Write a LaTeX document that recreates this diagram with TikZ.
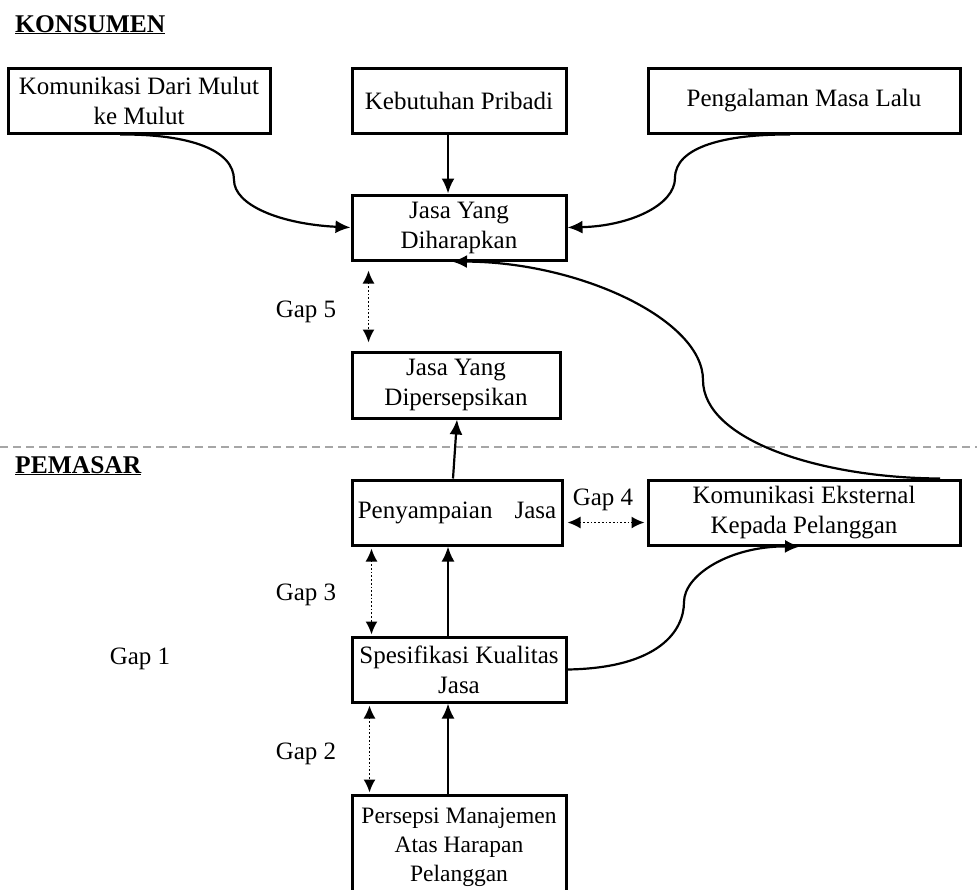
\documentclass[tikz,border=0pt]{standalone}
\usepackage{fontspec}
\setmainfont{Liberation Serif}
\usetikzlibrary{arrows.meta,calc}
\begin{document}
\begin{tikzpicture}[x=1pt,y=-1pt,
  box/.style={draw, line width=3pt, rectangle, inner sep=0pt, align=center,
    font=\fontsize{25}{30}\selectfont, minimum height=65pt},
  lbl/.style={inner sep=0pt, font=\fontsize{25}{30}\selectfont},
  head/.style={inner sep=0pt, font=\fontsize{25.5}{30}\selectfont\bfseries},
  conn/.style={line width=2.2pt, -{Latex[length=15pt,width=13pt]}},
  gaparr/.style={line width=1.7pt, dotted, {Latex[length=13pt,width=12pt]}-{Latex[length=13pt,width=12pt]}},
  sep/.style={line width=2.6pt, gray!70, dash pattern=on 8pt off 5pt}
]
\useasboundingbox (0,0) rectangle (977,889);

% headings
\node[head, anchor=base west] (konsumen) at (15,32) {\underline{KONSUMEN}};
\node[head, anchor=base west] (pemasar) at (15,473) {\underline{PEMASAR}};

% separator
\coordinate (sepL) at (0,447);
\coordinate (sepR) at (977,447);
\draw[sep] (sepL) -- (sepR);

% boxes
\node[box, minimum width=262pt] (b1) at (139,100.5) {Komunikasi Dari Mulut\\ke Mulut};
\node[box, minimum width=214pt] (b2) at (459,100.5) {Kebutuhan Pribadi};
\node[box, minimum width=312pt] (b3) at (804,100.5) {Pengalaman Masa Lalu};
\node[box, minimum width=214pt] (b4) at (459,227.5) {Jasa Yang\\Diharapkan};
\node[box, minimum width=208pt, minimum height=66pt] (b5) at (456,385) {Jasa Yang\\Dipersepsikan};
\node[box, minimum width=210pt] (b6) at (457,512.5) {Penyampaian\hspace{22pt}Jasa};
\node[box, minimum width=312pt] (b7) at (804,512.5) {Komunikasi Eksternal\\Kepada Pelanggan};
\node[box, minimum width=214pt] (b8) at (459,669.5) {Spesifikasi Kualitas\\Jasa};
\node[box, minimum width=214pt, minimum height=105pt, font=\fontsize{23.5}{29}\selectfont] (b9) at (459,847.5) {Persepsi Manajemen\\Atas Harapan\\Pelanggan};

% gap labels
\node[lbl, anchor=base] (g5) at (306,317) {Gap 5};
\node[lbl, anchor=base] (g4) at (603,505) {Gap 4};
\node[lbl, anchor=base] (g3) at (306,600) {Gap 3};
\node[lbl, anchor=base] (g1) at (140,664) {Gap 1};
\node[lbl, anchor=base] (g2) at (306,759) {Gap 2};

% straight connectors
\draw[conn] ($(b2.south)+(-11,0)$) -- ($(b4.north)+(-11,0)$);
\draw[conn] ($(b6.north)+(-4,0)$) -- ($(b5.south)+(1,0)$);
\draw[conn] ($(b8.north)+(-11,0)$) -- ($(b6.south)+(-9,0)$);
\draw[conn] ($(b9.north)+(-11,0)$) -- ($(b8.south)+(-11,0)$);

% curved connectors
\draw[conn] ($(b1.south)+(-19,0)$) .. controls (190,134) and (234,150) .. (234,180)
  .. controls (234,205) and (280,224) .. (b4.west);
\draw[conn] ($(b3.south)+(-14,0)$) .. controls (725,134) and (675,147) .. (675,178)
  .. controls (675,205) and (630,226) .. (b4.east);
\draw[conn] ($(b7.north)+(136,0)$) .. controls (820,478) and (703,440) .. (703,380)
  .. controls (703,320) and (580,262) .. ($(b4.south)+(-7,0)$);
\draw[conn] (b8.east) .. controls (660,668) and (684,630) .. (684,602)
  .. controls (684,575) and (730,546) .. ($(b7.south)+(-4,0)$);

% gap arrows
\draw[gaparr] ($(b4.south west)+(18,9)$) -- ($(b5.north west)+(18,-8)$);
\draw[gaparr] ($(b6.east)+(4,10)$) -- ($(b7.west)+(-2,10)$);
\draw[gaparr] ($(b6.south west)+(21,2)$) -- ($(b8.north west)+(21,-1)$);
\draw[gaparr] ($(b8.south west)+(19,2)$) -- ($(b9.north west)+(19,-1)$);
\end{tikzpicture}
\end{document}
